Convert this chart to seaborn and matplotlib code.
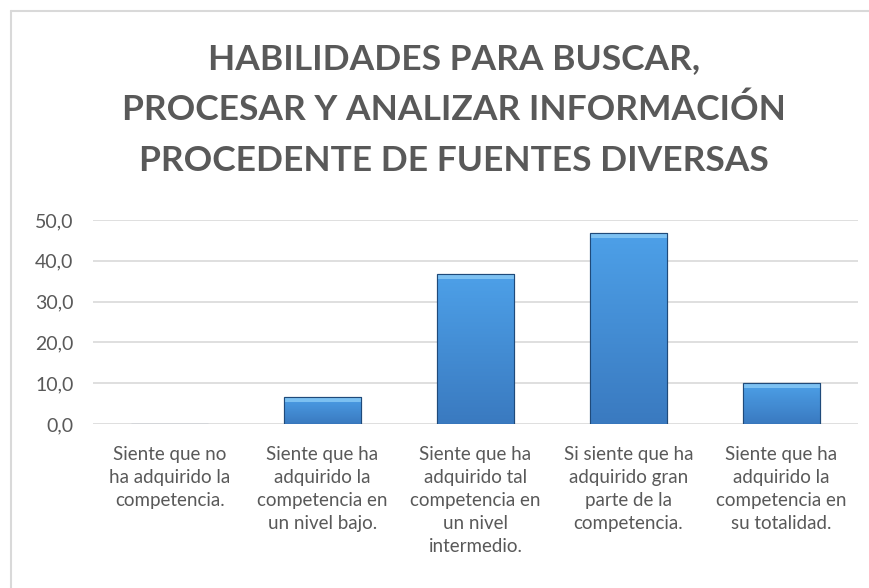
import numpy as np
import pandas as pd
import matplotlib
matplotlib.use("Agg")
import matplotlib.pyplot as plt
import seaborn as sns
from matplotlib.patches import Rectangle
from matplotlib.lines import Line2D
from matplotlib.colors import LinearSegmentedColormap

categories = [
    "Siente que no\nha adquirido la\ncompetencia.",
    "Siente que ha\nadquirido la\ncompetencia en\nun nivel bajo.",
    "Siente que ha\nadquirido tal\ncompetencia en\nun nivel\nintermedio.",
    "Si siente que ha\nadquirido gran\nparte de la\ncompetencia.",
    "Siente que ha\nadquirido la\ncompetencia en\nsu totalidad.",
]
values = [0.0, 6.7, 36.7, 46.7, 10.0]
yticks = [0, 10, 20, 30, 40, 50]
title = "HABILIDADES PARA BUSCAR,\nPROCESAR Y ANALIZAR INFORMACIÓN\nPROCEDENTE DE FUENTES DIVERSAS"

sns.set_style("white")
plt.rcParams["font.family"] = ["Lato", "DejaVu Sans"]
TXT = "#595959"

df = pd.DataFrame({"cat": categories, "val": values})

fig = plt.figure(figsize=(8.7, 5.88), dpi=100)
ax = fig.add_axes([0.107, 0.279, 0.879, 0.347])
sns.barplot(data=df, x="cat", y="val", color="#3F8DD6", width=0.5,
            edgecolor="#1F4A7A", linewidth=0.8, ax=ax, saturation=1)

# gradient / bevel overlay derived from each bar patch
grad = np.linspace(0, 1, 100).reshape(-1, 1)
cmap = LinearSegmentedColormap.from_list("b", ["#3A7AC0", "#4DA0E8"])
for p in list(ax.patches):
    x0, y0 = p.get_x(), p.get_y()
    w, h = p.get_width(), p.get_height()
    if h <= 0:
        continue
    im = ax.imshow(grad, extent=[x0, x0 + w, y0, y0 + h], origin="lower",
                   cmap=cmap, aspect="auto", zorder=p.get_zorder() + 0.1)
    im.set_clip_path(p)
    bev = min(1.2, h * 0.5)
    ax.add_patch(Rectangle((x0, y0 + h - bev), w, bev, facecolor="#86C8F5",
                           edgecolor="none", alpha=0.85, zorder=p.get_zorder() + 0.2))
    ax.add_patch(Rectangle((x0, y0), w, h, facecolor="none",
                           edgecolor="#1F4A7A", linewidth=0.8,
                           zorder=p.get_zorder() + 0.3))

ax.set_xlim(-0.5, len(categories) - 0.5)
ax.set_ylim(0, 50)
ax.set_yticks(yticks)
ax.set_yticklabels([f"{v:.1f}".replace(".", ",") for v in yticks],
                   fontsize=14, color=TXT)
ax.set_xticks(range(len(categories)))
ax.set_xticklabels(categories, fontsize=13.5, color=TXT, linespacing=1.42,
                   va="top")
ax.tick_params(axis="x", length=0, pad=16)
ax.tick_params(axis="y", length=0, pad=14)
ax.set_xlabel("")
ax.set_ylabel("")
ax.yaxis.grid(True, color="#D9D9D9", linewidth=1.2)
ax.set_axisbelow(True)
for s in ax.spines.values():
    s.set_visible(False)

fig.text(454 / 870, 1 - 110 / 588, title, ha="center", va="center",
         fontsize=25.5, fontweight="bold", color=TXT, linespacing=1.72)

bx, by = 11.5 / 870, 1 - 10.5 / 588
fig.add_artist(Line2D([bx, 1.0], [by, by], transform=fig.transFigure,
                      color="#D9D9D9", linewidth=1.5))
fig.add_artist(Line2D([bx, bx], [0.0, by], transform=fig.transFigure,
                      color="#D9D9D9", linewidth=1.5))

fig.savefig("out.png", dpi=100, facecolor="white")
